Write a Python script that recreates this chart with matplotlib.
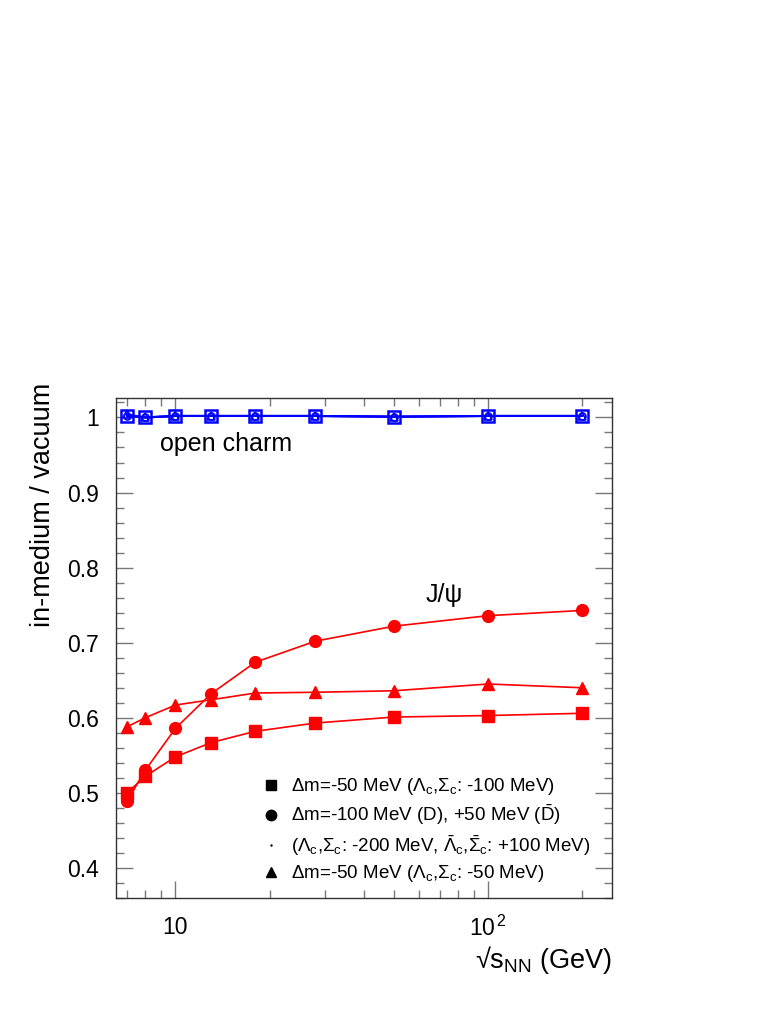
import matplotlib
matplotlib.use('Agg')
import matplotlib.pyplot as plt
from matplotlib.lines import Line2D
from matplotlib.ticker import FixedLocator, MultipleLocator, NullFormatter

plt.rcParams['font.family'] = ['Liberation Sans', 'DejaVu Sans']
plt.rcParams['mathtext.fontset'] = 'custom'
plt.rcParams['mathtext.rm'] = 'Liberation Sans'
plt.rcParams['mathtext.it'] = 'Liberation Sans:italic'
plt.rcParams['mathtext.bf'] = 'Liberation Sans:bold'

# collision energies sqrt(s_NN) in GeV
sqrt_s = [7, 8, 10, 13, 18, 28, 50, 100, 200]

# J/psi in-medium / vacuum
jpsi_sq = [0.500, 0.522, 0.548, 0.567, 0.582, 0.593, 0.601, 0.603, 0.606]
jpsi_ci = [0.489, 0.530, 0.586, 0.632, 0.674, 0.702, 0.722, 0.736, 0.743]
jpsi_tr = [0.588, 0.600, 0.617, 0.624, 0.633, 0.634, 0.636, 0.645, 0.640]

# open charm in-medium / vacuum
open_sq = [1.002, 1.000, 1.002, 1.002, 1.002, 1.002, 1.001, 1.002, 1.002]
open_ci = [1.002, 1.000, 1.002, 1.002, 1.002, 1.002, 1.001, 1.002, 1.002]
open_tr = [1.004, 1.000, 1.002, 1.002, 1.002, 1.002, 1.001, 1.002, 1.002]

leg_labels = [r'$\Delta$m=-50 MeV ($\Lambda_{\rm c}$,$\Sigma_{\rm c}$: -100 MeV)',
              r'$\Delta$m=-100 MeV (D), +50 MeV ($\bar{\rm D}$)',
              r'($\Lambda_{\rm c}$,$\Sigma_{\rm c}$: -200 MeV, $\bar{\Lambda}_{\rm c}$,$\bar{\Sigma}_{\rm c}$: +100 MeV)',
              r'$\Delta$m=-50 MeV ($\Lambda_{\rm c}$,$\Sigma_{\rm c}$: -50 MeV)']

fig = plt.figure(figsize=(7.81, 10.10), dpi=100)
ax = fig.add_axes([0.1485, 0.1109, 0.6355, 0.4951])

red = '#ff0000'
blue = '#0000ff'
ax.plot(sqrt_s, jpsi_sq, color=red, lw=1.2, marker='s', ms=8, mec=red, mfc=red)
ax.plot(sqrt_s, jpsi_ci, color=red, lw=1.2, marker='o', ms=8.5, mec=red, mfc=red)
ax.plot(sqrt_s, jpsi_tr, color=red, lw=1.2, marker='^', ms=8, mec=red, mfc=red)

ax.plot(sqrt_s, open_sq, color=blue, lw=1.5, marker='s', ms=8, mec=blue, mfc='none', mew=1.8)
ax.plot(sqrt_s, open_ci, color=blue, lw=1.5, marker='o', ms=5, mec=blue, mfc='none', mew=1.2)
ax.plot(sqrt_s, open_tr, color=blue, lw=1.5, marker='^', ms=6, mec=blue, mfc='none', mew=1.2)

ax.set_xscale('log')
ax.set_xlim(6.45, 250)
ax.set_ylim(0.36, 1.026)

ax.xaxis.set_major_locator(FixedLocator([10, 100]))
ax.set_xticklabels(['10', r'$10^{\,2}$'])
ax.xaxis.set_minor_locator(FixedLocator([7, 8, 9, 20, 30, 40, 50, 60, 70, 80, 90, 200]))
ax.xaxis.set_minor_formatter(NullFormatter())
ax.yaxis.set_major_locator(MultipleLocator(0.1))
ax.yaxis.set_minor_locator(MultipleLocator(0.02))
ax.set_yticks([0.4, 0.5, 0.6, 0.7, 0.8, 0.9, 1.0])
ax.set_yticklabels(['0.4', '0.5', '0.6', '0.7', '0.8', '0.9', '1'])

ax.tick_params(which='both', direction='in', top=True, right=True, color='#777777', width=1)
ax.tick_params(which='major', length=12, labelsize=16.5)
ax.tick_params(which='minor', length=6)
ax.tick_params(axis='x', which='major', pad=13)
ax.tick_params(axis='y', which='major', pad=12)
for sp in ax.spines.values():
    sp.set_color('#333333')
    sp.set_linewidth(1.0)

ax.text(8.9, 0.965, 'open charm', fontsize=18, ha='left', va='center')
ax.text(63, 0.764, 'J/ψ', fontsize=18, ha='left', va='center')

ax.text(-0.148, 1.03, 'in-medium / vacuum', transform=ax.transAxes,
        rotation=90, fontsize=19.5, ha='center', va='top')
ax.text(1.0, -0.124, r'√s$_{\rm NN}$ (GeV)', transform=ax.transAxes,
        fontsize=19.5, ha='right', va='center')

handles = [Line2D([], [], ls='none', marker='s', ms=7.5, color='black'),
           Line2D([], [], ls='none', marker='o', ms=7.5, color='black'),
           Line2D([], [], ls='none', marker='.', ms=1.5, color='black'),
           Line2D([], [], ls='none', marker='^', ms=7.5, color='black')]
ax.legend(handles, leg_labels, loc='lower left', bbox_to_anchor=(0.27, 0.005),
          frameon=False, fontsize=13.5, handlelength=1.0, handletextpad=0.6,
          labelspacing=0.3, borderaxespad=0.2)

fig.savefig('out.png', dpi=100)
